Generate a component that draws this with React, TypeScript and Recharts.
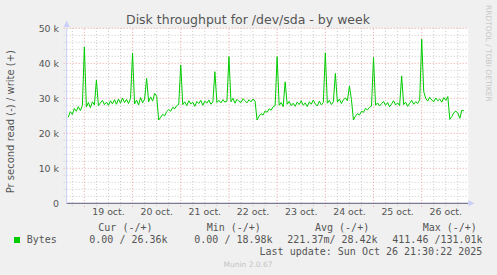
import React from 'react';
import { LineChart, Line, XAxis, YAxis, CartesianGrid, ReferenceLine } from 'recharts';

// hours relative to 19 oct 00:00, one value per hour, in thousands of bytes/s (write)
const startHour = -8;
const writeK = [
  // 18 oct 16h..23h
  24.6, 26.2, 25.4, 27.1, 26.3, 27.6, 26.5, 27.9,
  // 19 oct
  44.7, 27.5, 28.8, 27.3, 29.0, 28.1, 35.2, 27.9, 28.7, 29.4, 28.2, 28.9,
  28.0, 29.3, 28.4, 29.6, 28.3, 29.8, 28.6, 30.1, 28.8, 29.7, 28.5, 30.0,
  // 20 oct
  42.9, 28.4, 29.5, 28.1, 30.2, 28.7, 29.8, 35.7, 29.0, 30.4, 29.2, 31.4,
  30.6, 23.8, 24.6, 25.4, 25.0, 26.2, 26.8, 26.3, 27.4, 27.0, 27.9, 28.3,
  // 21 oct
  39.5, 28.2, 29.0, 27.9, 29.3, 28.4, 28.9, 27.7, 29.1, 28.5, 29.4, 28.0,
  29.2, 28.6, 29.5, 28.3, 29.0, 37.6, 28.8, 29.4, 28.7, 29.6, 28.9, 29.2,
  // 22 oct
  41.9, 29.0, 30.0, 28.6, 29.7, 29.1, 28.8, 29.9, 29.3, 28.7, 29.6, 29.0,
  29.8, 29.2, 23.8, 24.9, 25.6, 25.2, 26.4, 26.0, 27.0, 26.6, 27.6, 27.9,
  // 23 oct
  41.9, 28.0, 28.8, 27.6, 34.7, 28.3, 29.1, 27.9, 28.6, 27.7, 28.9, 28.2,
  29.3, 28.0, 28.7, 27.6, 29.0, 28.3, 29.5, 28.4, 27.8, 29.2, 28.1, 28.8,
  // 24 oct
  43.0, 28.6, 29.4, 28.2, 29.0, 37.1, 28.9, 29.8, 28.5, 29.6, 30.1, 29.3,
  33.5, 29.7, 23.8, 24.9, 25.6, 25.2, 26.3, 26.0, 27.1, 26.7, 27.4, 27.8,
  // 25 oct
  41.7, 28.0, 28.7, 27.8, 28.5, 29.1, 28.0, 28.8, 27.6, 28.4, 29.3, 28.1,
  28.7, 27.9, 36.4, 28.2, 28.9, 27.7, 28.6, 29.4, 28.3, 29.0, 28.5, 29.6,
  // 26 oct
  46.9, 31.9, 30.0, 29.2, 30.3, 29.5, 29.0, 30.1, 29.3, 29.8, 28.9, 30.2,
  29.4, 30.5, 24.0, 24.8, 25.9, 26.3, 25.8, 24.3, 26.6, 26.4,
];

const xDomain = [-8.8, 191.2];
const dayLabelHours = [12, 36, 60, 84, 108, 132, 156, 180];
const dayLabels = ['19 oct.', '20 oct.', '21 oct.', '22 oct.', '23 oct.', '24 oct.', '25 oct.', '26 oct.'];
const dayLineHours = [0, 24, 48, 72, 96, 120, 144, 168];
const minorHourLines = [
  -6, 6, 12, 18, 30, 36, 42, 54, 60, 66, 78, 84, 90, 102, 108, 114,
  126, 132, 138, 150, 156, 162, 174, 180, 186,
];
const yTicks = [0, 10000, 20000, 30000, 40000, 50000];
const yMinor = [
  2000, 4000, 6000, 8000, 12000, 14000, 16000, 18000, 22000, 24000, 26000, 28000,
  32000, 34000, 36000, 38000, 42000, 44000, 46000, 48000,
];

const title = 'Disk throughput for /dev/sda - by week';
const yLabel = 'Pr second read (-) / write (+)';
const legendHeaders = ['Cur (-/+)', 'Min (-/+)', 'Avg (-/+)', 'Max (-/+)'];
const legendName = 'Bytes';
const legendValues = ['0.00 / 26.36k', '0.00 / 18.98k', '221.37m/ 28.42k', '411.46 /131.01k'];
const lastUpdate = 'Last update: Sun Oct 26 21:30:22 2025';
const footer = 'Munin 2.0.67';
const watermark = 'RRDTOOL / TOBI OETIKER';

const data = writeK.map((v, i) => ({ h: startHour + i, write: v * 1000 }));

const GREEN = '#00cc00';
const TXT = '#555555';
const MINOR = '#c9c9c9';
const MAJOR = '#eaa0a0';
const ARROW = '#c8cff8';

const fmtY = (v: number) => (v === 0 ? '0' : `${v / 1000} k`);
const fmtX = (v: number) => {
  const i = dayLabelHours.indexOf(v);
  return i >= 0 ? dayLabels[i] : '';
};

export default function App() {
  return (
    <div style={{ position: 'absolute', left: 0, top: 0, width: 497, height: 275, background: '#f0f0f0', overflow: 'hidden' }}>
      <LineChart
        width={497}
        height={275}
        data={data}
        margin={{ top: 28.3, right: 28.7, bottom: 0, left: 0 }}
      >
        <CartesianGrid horizontal={false} vertical={false} fill="#ffffff" />
        {yMinor.map((y) => (
          <ReferenceLine key={'ym' + y} segment={[{ x: -10.3, y }, { x: xDomain[1], y }]} ifOverflow="visible" stroke={MINOR} strokeDasharray="1 2" />
        ))}
        {minorHourLines.map((x) => (
          <ReferenceLine key={'xm' + x} segment={[{ x, y: -800 }, { x, y: 50000 }]} ifOverflow="visible" stroke={MINOR} strokeDasharray="1 2" />
        ))}
        {yTicks.slice(1).map((y) => (
          <ReferenceLine key={'yM' + y} segment={[{ x: -10.3, y }, { x: xDomain[1], y }]} ifOverflow="visible" stroke={MAJOR} strokeDasharray="1 2" />
        ))}
        {dayLineHours.map((x) => (
          <ReferenceLine key={'xM' + x} segment={[{ x, y: -1000 }, { x, y: 50000 }]} ifOverflow="visible" stroke={MAJOR} strokeDasharray="1 2" />
        ))}
        <XAxis
          dataKey="h"
          type="number"
          domain={xDomain}
          ticks={dayLabelHours}
          tickFormatter={fmtX}
          height={71.7}
          axisLine={{ stroke: '#5a5a78' }}
          tickLine={false}
          tickSize={3}
          tickMargin={2.3}
          interval={0}
          allowDataOverflow
          tick={{ fill: TXT, fontSize: 9.4, fontFamily: 'DejaVu Sans' }}
        />
        <YAxis
          type="number"
          domain={[0, 50000]}
          ticks={yTicks}
          tickFormatter={fmtY}
          width={66.7}
          axisLine={{ stroke: ARROW }}
          tickLine={false}
          tickSize={5}
          tickMargin={2.7}
          interval={0}
          allowDataOverflow
          tick={{ fill: TXT, fontSize: 9.4, fontFamily: 'DejaVu Sans' }}
        />
        <Line
          type="linear"
          dataKey="write"
          stroke={GREEN}
          strokeWidth={1}
          dot={false}
          activeDot={false}
          isAnimationActive={false}
        />
      </LineChart>
      <svg width={497} height={275} style={{ position: 'absolute', left: 0, top: 0, pointerEvents: 'none' }}>
        <polygon points="63.7,27 66.7,20.5 69.7,27" fill={ARROW} />
        <polygon points="468.5,200.3 474.5,203.3 468.5,206.3" fill={ARROW} />
        <text x={248} y={24} textAnchor="middle" fontFamily="DejaVu Sans" fontSize={12.5} fill={TXT}>{title}</text>
        <text x={14} y={121.7} textAnchor="middle" fontFamily="DejaVu Sans" fontSize={10} fill={TXT} transform="rotate(-90 14 121.7)">{yLabel}</text>
        <text x={485.5} y={5} fontFamily="DejaVu Sans" fontSize={7.5} fill="#c8c8c8" transform="rotate(90 485.5 5)">{watermark}</text>
        {legendHeaders.map((t, i) => (
          <text key={t} x={[98.3, 206.7, 315, 422.7][i]} y={231} fontFamily="DejaVu Sans Mono" fontSize={10} fill={TXT} style={{ whiteSpace: 'pre' }}>{t}</text>
        ))}
        <rect x={14} y={237} width={6} height={6} fill={GREEN} />
        <text x={26.7} y={243} fontFamily="DejaVu Sans Mono" fontSize={10} fill={TXT}>{legendName}</text>
        {legendValues.map((t, i) => (
          <text key={t} x={[89.3, 194.3, 287.3, 392.3][i]} y={243} fontFamily="DejaVu Sans Mono" fontSize={10} fill={TXT} style={{ whiteSpace: 'pre' }}>{t}</text>
        ))}
        <text x={482.3} y={255} textAnchor="end" fontFamily="DejaVu Sans Mono" fontSize={10} fill={TXT}>{lastUpdate}</text>
        <text x={248} y={267} textAnchor="middle" fontFamily="DejaVu Sans" fontSize={7.5} fill="#c4c4c4">{footer}</text>
      </svg>
    </div>
  );
}
